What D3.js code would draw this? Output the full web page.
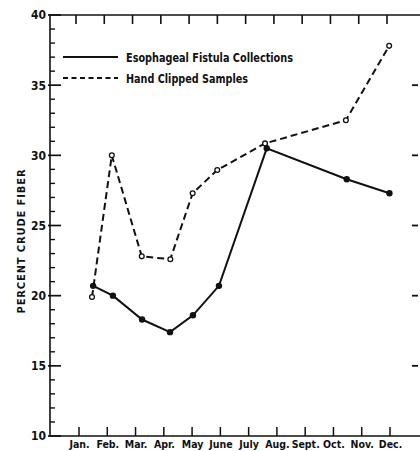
<!DOCTYPE html>
<html>
<head>
<meta charset="utf-8">
<script src="https://cdn.jsdelivr.net/npm/d3@7"></script>
<style>
  body { margin: 0; background: #fff; }
  svg { display: block; }
  .lbl { font-family: "DejaVu Sans", sans-serif; font-stretch: condensed; font-weight: bold; fill: #111; }
</style>
</head>
<body>
<div id="chart"></div>
<script>
// meses y valores (posicion en meses: 0 = Jan.)
const months = ["Jan.", "Feb.", "Mar.", "Apr.", "May", "June", "July", "Aug.", "Sept.", "Oct.", "Nov.", "Dec."];
const fistulaX = [0.50, 1.20, 2.23, 3.22, 4.03, 4.95, 6.64, 9.47, 10.98];
const fistulaY = [20.7, 20.0, 18.3, 17.4, 18.6, 20.7, 30.5, 28.3, 27.3];
const clippedX = [0.46, 1.16, 2.22, 3.23, 4.02, 4.89, 6.58, 9.44, 10.97];
const clippedY = [19.9, 30.0, 22.8, 22.6, 27.3, 28.95, 30.85, 32.5, 37.8];
const yMajor = [10, 15, 20, 25, 30, 35, 40];
const yMinorTicks = [11, 12, 13, 14, 16, 17, 18, 19, 21, 22, 23, 24, 26, 27, 28, 29, 31, 32, 33, 34, 36, 37, 38, 39];
const yRight = [15, 20, 25, 30, 35];
const monthTicks = [0, 1, 2, 3, 4, 5, 6, 7, 8, 9, 10, 11];

const width = 420, height = 451;
const pLeft = 50, pRight = 420, pTop = 15, pBottom = 436;

const x = d3.scaleLinear().domain([0, 11]).range([79, 390]);
const y = d3.scaleLinear().domain([10, 40]).range([pBottom, pTop]);

const svg = d3.select("#chart").append("svg")
    .attr("width", width)
    .attr("height", height);

const ink = "#111";

// etiquetas de los ejes (d3.axis sin marcas)
const yAxis = svg.append("g")
    .attr("transform", `translate(${pLeft},0)`)
    .call(d3.axisLeft(y).tickValues(yMajor).tickSize(0).tickPadding(4));
yAxis.select(".domain").remove();
yAxis.selectAll(".tick line").remove();
yAxis.selectAll("text").attr("class", "lbl").style("font-size", "12px");

const xAxis = svg.append("g")
    .attr("transform", `translate(0,${pBottom})`)
    .call(d3.axisBottom(x).tickValues(monthTicks).tickFormat(i => months[i]).tickSize(0).tickPadding(5));
xAxis.select(".domain").remove();
xAxis.selectAll(".tick line").remove();
xAxis.selectAll("text").attr("class", "lbl").style("font-size", "10.5px");

// marcas de los ejes
function ticksY(vals, x1, x2, w) {
    vals.forEach(v => {
        svg.append("line")
            .attr("x1", x1).attr("x2", x2)
            .attr("y1", y(v)).attr("y2", y(v))
            .attr("stroke", ink).attr("stroke-width", w);
    });
}
function ticksX(vals, dx, y1, y2, w) {
    vals.forEach(v => {
        svg.append("line")
            .attr("x1", x(v) + dx).attr("x2", x(v) + dx)
            .attr("y1", y1).attr("y2", y2)
            .attr("stroke", ink).attr("stroke-width", w);
    });
}
ticksY(yMajor, pLeft - 2, pLeft + 11, 1.7);
ticksY(yMinorTicks, pLeft, pLeft + 5, 1.4);
ticksY(yRight, 412, 418, 1.8);
ticksX(monthTicks, 0, pBottom, pBottom - 9, 1.5);
ticksX(monthTicks, -3, pTop, pTop + 9, 1.6);

// marco
svg.append("line").attr("x1", pLeft).attr("x2", pLeft).attr("y1", pTop - 1).attr("y2", pBottom)
    .attr("stroke", ink).attr("stroke-width", 1.6);
svg.append("line").attr("x1", pLeft).attr("x2", pRight).attr("y1", pTop).attr("y2", pTop)
    .attr("stroke", ink).attr("stroke-width", 1.6);
svg.append("line").attr("x1", pLeft).attr("x2", pRight).attr("y1", pBottom).attr("y2", pBottom)
    .attr("stroke", ink).attr("stroke-width", 1.6);

// titulo del eje y
svg.append("text")
    .attr("class", "lbl")
    .attr("transform", `translate(25,241) rotate(-90)`)
    .attr("text-anchor", "middle")
    .style("font-size", "11px")
    .style("letter-spacing", "0.9px")
    .text("PERCENT CRUDE FIBER");

// series
const fistula = fistulaX.map((v, i) => ({ m: v, val: fistulaY[i] }));
const clipped = clippedX.map((v, i) => ({ m: v, val: clippedY[i] }));

const line = d3.line().x(d => x(d.m)).y(d => y(d.val));

svg.append("path")
    .datum(clipped)
    .attr("d", line)
    .attr("fill", "none")
    .attr("stroke", ink)
    .attr("stroke-width", 2)
    .attr("stroke-dasharray", "7,4");

svg.append("path")
    .datum(fistula)
    .attr("d", line)
    .attr("fill", "none")
    .attr("stroke", ink)
    .attr("stroke-width", 2);

svg.selectAll("circle.open")
    .data(clipped)
    .enter()
    .append("circle")
    .attr("class", "open")
    .attr("cx", d => x(d.m))
    .attr("cy", d => y(d.val))
    .attr("r", 2.4)
    .attr("fill", "#fff")
    .attr("stroke", ink)
    .attr("stroke-width", 1.3);

svg.selectAll("circle.filled")
    .data(fistula)
    .enter()
    .append("circle")
    .attr("class", "filled")
    .attr("cx", d => x(d.m))
    .attr("cy", d => y(d.val))
    .attr("r", 3.2)
    .attr("fill", ink);

// leyenda
const legend = svg.append("g");
legend.append("line").attr("x1", 63).attr("x2", 118).attr("y1", 57).attr("y2", 57)
    .attr("stroke", ink).attr("stroke-width", 2);
legend.append("line").attr("x1", 63).attr("x2", 118).attr("y1", 78).attr("y2", 78)
    .attr("stroke", ink).attr("stroke-width", 2).attr("stroke-dasharray", "5,3.5");
legend.append("text").attr("class", "lbl").attr("x", 126).attr("y", 62)
    .style("font-size", "12px").attr("textLength", 167).attr("lengthAdjust", "spacingAndGlyphs")
    .text("Esophageal Fistula Collections");
legend.append("text").attr("class", "lbl").attr("x", 126).attr("y", 83)
    .style("font-size", "12px").attr("textLength", 122).attr("lengthAdjust", "spacingAndGlyphs")
    .text("Hand Clipped Samples");
</script>
</body>
</html>
